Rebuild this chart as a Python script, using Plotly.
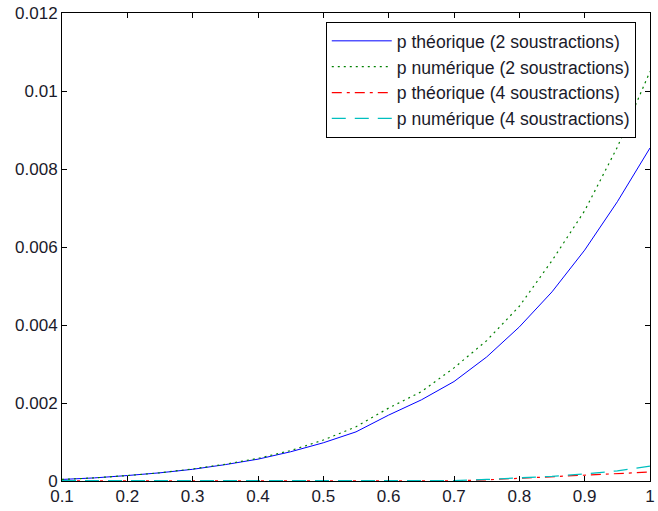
import plotly.graph_objects as go

x = [0.10, 0.15, 0.20, 0.25, 0.30, 0.35, 0.40, 0.45, 0.50, 0.55,
     0.60, 0.65, 0.70, 0.75, 0.80, 0.85, 0.90, 0.95, 1.00]

p_theo_2 = [0.00004, 0.00008, 0.00014, 0.00021, 0.00030, 0.00042, 0.00056, 0.00075, 0.00098, 0.00126,
            0.00169, 0.00208, 0.00255, 0.00318, 0.00395, 0.00485, 0.00592, 0.00716, 0.00854]
p_num_2 = [0.00004, 0.00008, 0.00014, 0.00021, 0.00031, 0.00043, 0.00058, 0.00078, 0.00105, 0.00139,
           0.00187, 0.00229, 0.00290, 0.00360, 0.00448, 0.00565, 0.00693, 0.00856, 0.01050]
p_theo_4 = [0.000005, 0.000005, 0.000005, 0.000005, 0.000005, 0.000005, 0.000005, 0.000005, 0.000005, 0.000005,
            0.000005, 0.000005, 0.000006, 0.00003, 0.00007, 0.00010, 0.00014, 0.00019, 0.00023]
p_num_4 = [0.00001, 0.00001, 0.00001, 0.00001, 0.00001, 0.00001, 0.00001, 0.00001, 0.00001, 0.00001,
           0.00001, 0.00001, 0.00001, 0.00004, 0.00008, 0.00012, 0.00018, 0.00026, 0.00038]

names = ["p théorique (2 soustractions)", "p numérique (2 soustractions)",
         "p théorique (4 soustractions)", "p numérique (4 soustractions)"]

x_ticks = [0.1, 0.2, 0.3, 0.4, 0.5, 0.6, 0.7, 0.8, 0.9, 1.0]
x_labels = ["0.1", "0.2", "0.3", "0.4", "0.5", "0.6", "0.7", "0.8", "0.9", "1"]
y_ticks = [0, 0.002, 0.004, 0.006, 0.008, 0.01, 0.012]
y_labels = ["0", "0.002", "0.004", "0.006", "0.008", "0.01", "0.012"]

fig = go.Figure()
fig.add_trace(go.Scatter(x=x, y=p_theo_2, mode="lines", name=names[0],
                         line=dict(color="#0000ff", width=1)))
fig.add_trace(go.Scatter(x=x, y=p_num_2, mode="lines", name=names[1],
                         line=dict(color="#008000", width=1.2, dash="2px,4px")))
fig.add_trace(go.Scatter(x=x, y=p_theo_4, mode="lines", name=names[2],
                         line=dict(color="#ff0000", width=1.2, dash="10px,5px,3px,5px")))
fig.add_trace(go.Scatter(x=x, y=p_num_4, mode="lines", name=names[3],
                         line=dict(color="#00bfbf", width=1.3, dash="14px,9px")))

font_family = "Liberation Sans, Arial"
text_color = "#1a1a2a"
axis_common = dict(showgrid=False, zeroline=False, showline=True, linecolor="black",
                   linewidth=1, mirror="ticks", ticks="inside", ticklen=5,
                   tickcolor="black", ticklabeloverflow="allow",
                   tickfont=dict(family=font_family, size=17, color=text_color))

fig.update_layout(
    width=658, height=511,
    margin=dict(l=62, r=3, t=13, b=30),
    paper_bgcolor="white", plot_bgcolor="white",
    showlegend=True,
    legend=dict(x=0.4486, y=0.981, xanchor="left", yanchor="top",
                bgcolor="white", bordercolor="black", borderwidth=1,
                font=dict(family=font_family, size=17.6, color=text_color),
                tracegroupgap=0, itemwidth=60),
)
fig.update_xaxes(range=[0.1, 1.0], tickvals=x_ticks, ticktext=x_labels, **axis_common)
fig.update_yaxes(range=[0, 0.012], tickvals=y_ticks, ticktext=y_labels, **axis_common)

fig.write_html("out.html", config={"displayModeBar": False},
               post_script="document.body.style.margin='0';document.body.style.overflow='hidden';")
